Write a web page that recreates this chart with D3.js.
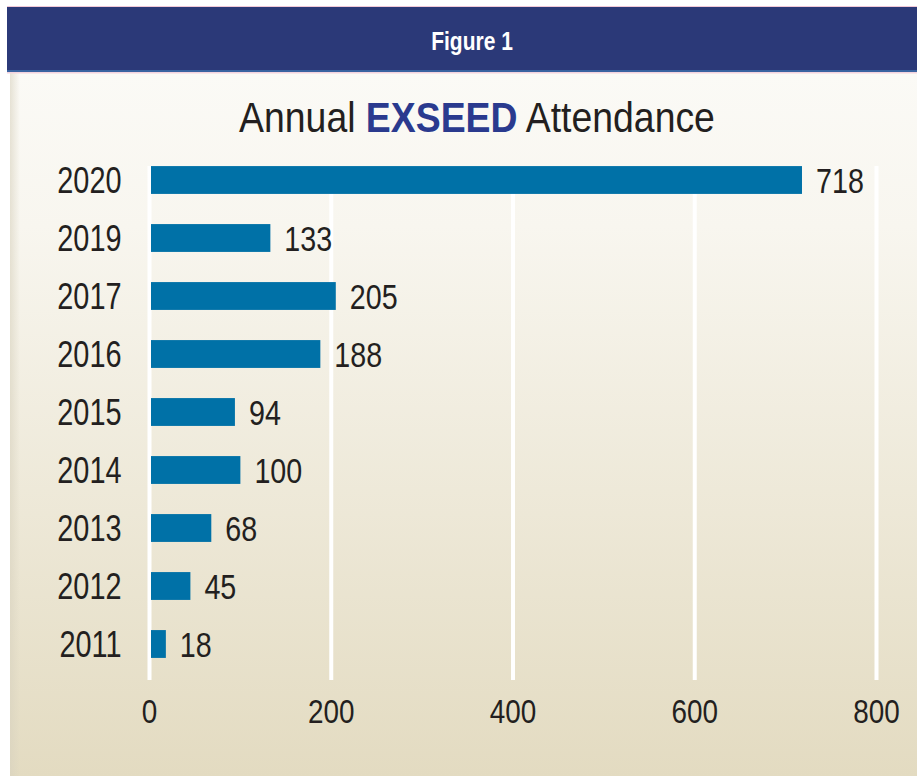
<!DOCTYPE html>
<html>
<head>
<meta charset="utf-8">
<script src="https://cdn.jsdelivr.net/npm/d3@7"></script>
<style>
  body { margin: 0; background: #ffffff; }
  svg { display: block; }
</style>
</head>
<body>
<div id="chart"></div>
<script>
// data, top to bottom as shown
var years = ["2020", "2019", "2017", "2016", "2015", "2014", "2013", "2012", "2011"];
var attendance = [718, 133, 205, 188, 94, 100, 68, 45, 18];
var xTicks = [0, 200, 400, 600, 800];

var W = 917, H = 776;
var font = "'Liberation Sans', Arial, sans-serif";

// squeeze text sideways to get the condensed look of the original
function place(px, py, sx) {
  return "translate(" + px + "," + py + ") scale(" + sx + ",1)";
}

var svg = d3.select("#chart").append("svg")
    .attr("width", W)
    .attr("height", H);

var defs = svg.append("defs");
var grad = defs.append("linearGradient")
    .attr("id", "bg")
    .attr("x1", 0).attr("y1", 0).attr("x2", 0).attr("y2", 1);
grad.append("stop").attr("offset", "0%").attr("stop-color", "#fbfaf6");
grad.append("stop").attr("offset", "22%").attr("stop-color", "#f8f6ef");
grad.append("stop").attr("offset", "100%").attr("stop-color", "#e3dbc1");

var shadow = defs.append("linearGradient")
    .attr("id", "edge")
    .attr("x1", 0).attr("y1", 0).attr("x2", 1).attr("y2", 0);
shadow.append("stop").attr("offset", "0%").attr("stop-color", "#d8d2bf").attr("stop-opacity", 0.6);
shadow.append("stop").attr("offset", "100%").attr("stop-color", "#d8d2bf").attr("stop-opacity", 0);

// panel
svg.append("rect")
    .attr("x", 10).attr("y", 72)
    .attr("width", W - 10).attr("height", H - 72)
    .attr("fill", "url(#bg)");
svg.append("rect")
    .attr("x", 10).attr("y", 72)
    .attr("width", 10).attr("height", H - 72)
    .attr("fill", "url(#edge)");

// header band
svg.append("rect")
    .attr("x", 7).attr("y", 6)
    .attr("width", W - 7).attr("height", 1.5)
    .attr("fill", "#f1c9d8");
svg.append("rect")
    .attr("x", 7).attr("y", 7)
    .attr("width", W - 7).attr("height", 65)
    .attr("fill", "#2b3978");
svg.append("rect")
    .attr("x", 7).attr("y", 70)
    .attr("width", W - 7).attr("height", 2)
    .attr("fill", "#3a63a0");
svg.append("rect")
    .attr("x", 7).attr("y", 72)
    .attr("width", W - 7).attr("height", 1.5)
    .attr("fill", "#f3d3de");

svg.append("text")
    .attr("transform", place(472, 50, 0.84))
    .attr("text-anchor", "middle")
    .style("font-family", font)
    .style("font-weight", "bold")
    .style("font-size", "25px")
    .style("fill", "#ffffff")
    .text("Figure 1");

// title
var title = svg.append("text")
    .attr("transform", place(477, 132, 0.89))
    .attr("text-anchor", "middle")
    .style("font-family", font)
    .style("font-size", "42px")
    .style("fill", "#231f20");
title.append("tspan").text("Annual ");
title.append("tspan")
    .style("font-weight", "bold")
    .style("fill", "#2a3a8e")
    .text("EXSEED");
title.append("tspan").text(" Attendance");

// scales
var x = d3.scaleLinear()
    .domain([0, 800])
    .range([149.5, 876.5]);

var y = d3.scaleBand()
    .domain(years)
    .range([151, 673])
    .paddingInner(0.52)
    .paddingOuter(0.26);

// gridlines
svg.selectAll(".vlines")
    .data(xTicks)
    .enter()
    .append("line")
      .classed("vlines", 1)
      .attr("x1", x).attr("x2", x)
      .attr("y1", 166).attr("y2", 680)
      .style("stroke", "#ffffff")
      .style("stroke-width", 4);

// bars
svg.selectAll(".bar")
    .data(attendance)
    .enter()
    .append("rect")
      .classed("bar", 1)
      .attr("x", x(0) + 1.5)
      .attr("y", function(d, i) { return y(years[i]); })
      .attr("width", function(d) { return x(d) - x(0) - 1.5; })
      .attr("height", y.bandwidth())
      .style("fill", "#0071a7");

// value labels
svg.selectAll(".val")
    .data(attendance)
    .enter()
    .append("text")
      .classed("val", 1)
      .attr("transform", function(d, i) {
        return place(x(d) + 14, y(years[i]) + y.bandwidth() / 2, 0.82);
      })
      .attr("dy", "0.36em")
      .style("font-family", font)
      .style("font-size", "35px")
      .style("fill", "#231f20")
      .text(function(d) { return d; });

// year labels
svg.selectAll(".yr")
    .data(years)
    .enter()
    .append("text")
      .classed("yr", 1)
      .attr("transform", function(d) {
        return place(x(0) - 28, y(d) + y.bandwidth() / 2, 0.78);
      })
      .attr("dy", "0.36em")
      .attr("text-anchor", "end")
      .style("font-family", font)
      .style("font-size", "37px")
      .style("fill", "#231f20")
      .text(function(d) { return d; });

// x axis labels
svg.selectAll(".xt")
    .data(xTicks)
    .enter()
    .append("text")
      .classed("xt", 1)
      .attr("transform", function(d) { return place(x(d), 723, 0.82); })
      .attr("text-anchor", "middle")
      .style("font-family", font)
      .style("font-size", "34px")
      .style("fill", "#231f20")
      .text(function(d) { return d; });
</script>
</body>
</html>
